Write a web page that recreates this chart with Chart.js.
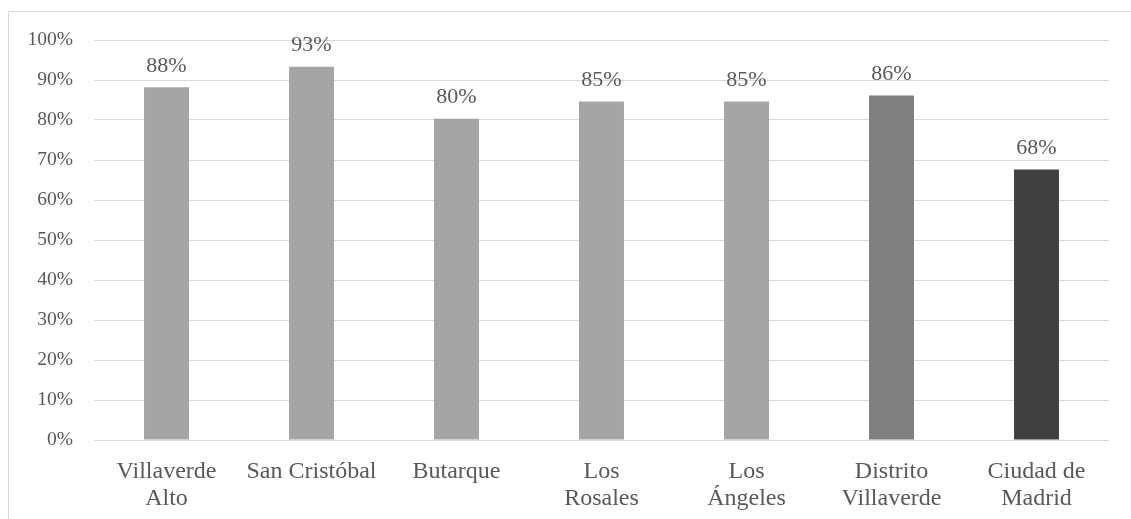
<!DOCTYPE html>
<html>
<head>
<meta charset="utf-8">
<script src="https://cdn.jsdelivr.net/npm/chart.js@4/dist/chart.umd.min.js"></script>
<style>
  html, body { margin: 0; padding: 0; background: #fff; }
  #wrap { position: relative; width: 1131px; height: 519px; }
</style>
</head>
<body>
<div id="wrap"><canvas id="barChart"></canvas></div>
<script>
// --- DATA ---
const categories = [
  ['Villaverde', 'Alto'],
  'San Cristóbal',
  'Butarque',
  ['Los', 'Rosales'],
  ['Los', 'Ángeles'],
  ['Distrito', 'Villaverde'],
  ['Ciudad de', 'Madrid']
];
const values = [88.2, 93.3, 80.3, 84.6, 84.6, 86.1, 67.6];
const barColors = ['#A5A5A5', '#A5A5A5', '#A5A5A5', '#A5A5A5', '#A5A5A5', '#7F7F7F', '#404040'];

const FONT = "'Liberation Serif', 'Times New Roman', serif";
const INK = '#595959';

// cadre gris clair autour du graphique
const frame = {
  id: 'frame',
  beforeDraw(chart) {
    const ctx = chart.ctx;
    ctx.save();
    ctx.strokeStyle = '#d9d9d9';
    ctx.lineWidth = 1;
    ctx.strokeRect(8.5, 11.5, chart.width + 10, chart.height + 10);
    ctx.restore();
  }
};

// étiquettes de valeur au-dessus des barres
const valueLabels = {
  id: 'valueLabels',
  afterDatasetsDraw(chart) {
    const ctx = chart.ctx;
    const meta = chart.getDatasetMeta(0);
    ctx.save();
    ctx.font = '22px ' + FONT;
    ctx.fillStyle = INK;
    ctx.textAlign = 'center';
    ctx.textBaseline = 'alphabetic';
    meta.data.forEach((bar, i) => {
      ctx.fillText(Math.round(values[i]) + '%', bar.x, bar.y - 15.5);
    });
    ctx.restore();
  }
};

const ctx = document.getElementById('barChart').getContext('2d');
new Chart(ctx, {
  type: 'bar',
  data: {
    labels: categories,
    datasets: [{
      data: values,
      backgroundColor: barColors,
      borderWidth: 0,
      categoryPercentage: 1,
      barPercentage: 0.31
    }]
  },
  options: {
    responsive: true,
    maintainAspectRatio: false,
    animation: false,
    layout: { padding: { left: 0, right: 22, top: 40, bottom: 0 } },
    plugins: {
      legend: { display: false },
      tooltip: { enabled: false }
    },
    scales: {
      y: {
        min: 0,
        max: 100,
        afterFit: (scale) => { scale.width = 94; },
        ticks: {
          stepSize: 10,
          padding: 21,
          color: INK,
          font: { family: FONT, size: 19.5 },
          callback: v => v + '%'
        },
        grid: { color: '#d9d9d9', lineWidth: 1, drawTicks: false },
        border: { display: false }
      },
      x: {
        afterFit: (scale) => { scale.height = 79; },
        ticks: {
          padding: 19,
          color: INK,
          maxRotation: 0,
          autoSkip: false,
          font: { family: FONT, size: 24, lineHeight: 1.1 }
        },
        grid: { display: false, drawTicks: false },
        border: { display: false }
      }
    }
  },
  plugins: [frame, valueLabels]
});
</script>
</body>
</html>
